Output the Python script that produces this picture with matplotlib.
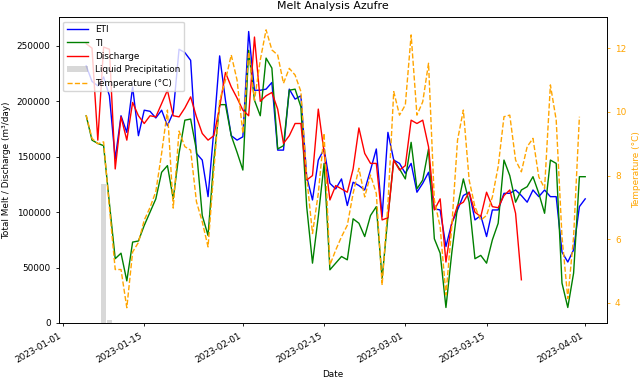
import matplotlib
matplotlib.use("Agg")
import matplotlib.pyplot as plt
import matplotlib.dates as mdates
import numpy as np
import pandas as pd

dates = pd.date_range("2023-01-05", "2023-04-01", freq="D")

eti = [232000, 218000, 214000, 222000, 205000, 148000, 187000, 172000, 213000, 169000,
       192000, 191000, 185000, 192000, 178000, 190000, 247000, 244000, 237000, 153000,
       147000, 114000, 174000, 241000, 201000, 169000, 165000, 168000, 263000, 210000,
       210000, 211000, 217000, 156000, 156000, 211000, 202000, 205000, 132000, 111000,
       147000, 157000, 126000, 121000, 130000, 106000, 127000, 124000, 120000, 138000,
       157000, 96000, 172000, 147000, 144000, 135000, 144000, 118000, 126000, 136000,
       103000, 102000, 69000, 90000, 102000, 115000, 118000, 93000, 97000, 78000,
       102000, 102000, 117000, 117000, 120000, 115000, 109000, 120000, 114000, 120000,
       114000, 114000, 64000, 55000, 66000, 105000, 112000]

ti = [187000, 165000, 162000, 160000, 108000, 58000, 63000, 38000, 73000, 74000,
      88000, 100000, 112000, 136000, 142000, 112000, 153000, 183000, 184000, 156000,
      97000, 79000, 147000, 197000, 197000, 169000, 154000, 138000, 246000, 201000,
      187000, 239000, 230000, 157000, 160000, 210000, 211000, 195000, 105000, 54000,
      96000, 144000, 48000, 54000, 60000, 57000, 94000, 90000, 78000, 97000,
      105000, 40000, 96000, 147000, 139000, 130000, 163000, 121000, 129000, 157000,
      76000, 63000, 14000, 63000, 105000, 130000, 109000, 58000, 61000, 54000,
      75000, 90000, 147000, 133000, 109000, 120000, 123000, 132000, 117000, 99000,
      147000, 144000, 36000, 14000, 45000, 132000, 132000]

discharge = [252000, 248000, 165000, 249000, 247000, 139000, 186000, 165000, 199000, 187000,
             180000, 187000, 186000, 198000, 210000, 187000, 186000, 194000, 204000, 186000,
             171000, 165000, 169000, 195000, 226000, 213000, 203000, 192000, 187000, 258000,
             200000, 205000, 208000, 193000, 162000, 169000, 180000, 180000, 129000, 133000,
             193000, 154000, 111000, 124000, 121000, 118000, 139000, 176000, 153000, 144000,
             144000, 93000, 95000, 147000, 138000, 142000, 183000, 180000, 183000, 159000,
             102000, 112000, 55000, 90000, 106000, 109000, 118000, 100000, 96000, 118000,
             105000, 104000, 115000, 120000, 99000, 39000,
             np.nan, np.nan, np.nan, np.nan, np.nan, np.nan, np.nan, np.nan, np.nan, np.nan, np.nan]

temperature = [9.9, 9.17, 9.0, 9.06, 7.0, 5.05, 5.05, 3.85, 5.6, 5.9,
               6.6, 7.0, 7.5, 8.7, 10.06, 6.98, 9.4, 8.91, 8.8, 7.18,
               6.55, 5.76, 8.17, 10.37, 11.0, 11.79, 11.0, 9.33, 11.89, 10.37,
               11.63, 12.58, 11.95, 11.79, 10.9, 11.37, 11.16, 10.64, 7.96, 6.18,
               7.44, 9.33, 5.19, 5.66, 6.08, 6.44, 7.44, 8.23, 7.33, 8.02,
               7.44, 4.56, 7.1, 10.64, 9.9, 10.22, 12.42, 9.9, 10.32, 11.53,
               7.23, 6.39, 4.25, 6.39, 9.12, 10.06, 7.86, 7.02, 6.6, 6.75,
               7.33, 8.28, 9.85, 9.9, 8.49, 8.12, 8.91, 9.17, 7.96, 7.6,
               10.85, 9.75, 6.08, 4.14, 6.08, 9.85, np.nan]

precip_dates = pd.to_datetime(["2023-01-08", "2023-01-09"])
precip = [125000, 3000]

fs = 6.4
fig, ax1 = plt.subplots(figsize=(6.4, 3.8), dpi=100)
fig.subplots_adjust(left=0.092, right=0.948, bottom=0.15, top=0.955)

l1, = ax1.plot(dates, eti, color="blue", lw=1.0, label="ETI")
l2, = ax1.plot(dates, ti, color="green", lw=1.0, label="TI")
l3, = ax1.plot(dates, discharge, color="red", lw=1.0, label="Discharge")
b1 = ax1.bar(precip_dates, precip, width=0.8, color="gray", alpha=0.3, label="Liquid Precipitation")

ax2 = ax1.twinx()
l4, = ax2.plot(dates, temperature, color="orange", ls="--", lw=1.0, label="Temperature (°C)")

ax1.set_xlim(pd.Timestamp("2023-01-01") - pd.Timedelta(hours=17),
             pd.Timestamp("2023-04-04") + pd.Timedelta(hours=17))
ax1.set_ylim(0, 276000)
ax2.set_ylim(3.37, 12.98)

ax1.xaxis.set_major_locator(mdates.DayLocator(bymonthday=[1, 15]))
ax1.xaxis.set_major_formatter(mdates.DateFormatter("%Y-%m-%d"))
for lab in ax1.get_xticklabels():
    lab.set_rotation(30)
    lab.set_ha("right")

ax1.tick_params(labelsize=fs, length=2.5, width=0.6)
ax2.tick_params(labelsize=fs, length=2.5, width=0.6, colors="orange")
ax2.spines["right"].set_color("black")
for sp in list(ax1.spines.values()) + list(ax2.spines.values()):
    sp.set_linewidth(0.6)

ax1.set_xlabel("Date", fontsize=fs)
ax1.set_ylabel("Total Melt / Discharge (m³/day)", fontsize=fs)
ax2.set_ylabel("Temperature (°C)", fontsize=fs, color="orange")
ax1.set_title("Melt Analysis Azufre", fontsize=7.9)

ax1.legend([l1, l2, l3, b1, l4], ["ETI", "TI", "Discharge", "Liquid Precipitation", "Temperature (°C)"],
           loc="upper left", fontsize=fs, handlelength=2.4)

fig.savefig("out.png", dpi=100)
